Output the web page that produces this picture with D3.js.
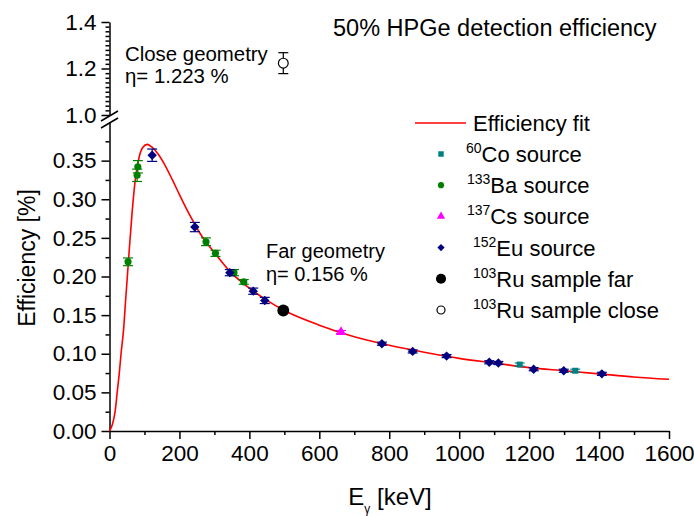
<!DOCTYPE html>
<html>
<head>
<meta charset="utf-8">
<script src="https://cdn.jsdelivr.net/npm/d3@7"></script>
<style>
  body { margin: 0; background: #fff; }
  svg { display: block; font-family: Arial, "Liberation Sans", sans-serif; }
</style>
</head>
<body>
<svg id="chart" width="694" height="516"></svg>
<script>
// tick labels
const xTicks = [0, 200, 400, 600, 800, 1000, 1200, 1400, 1600];
const yLowTicks = [0, 0.05, 0.10, 0.15, 0.20, 0.25, 0.30, 0.35];
const yHighTicks = [1.0, 1.2, 1.4];

// efficiency fit (keV, %)
const fitE   = [0, 8, 16, 22, 28, 33, 40, 47, 55, 65, 75, 85, 95, 108, 120, 140, 160, 180, 200, 230, 260, 300, 350, 400, 450, 500, 600, 700, 800, 900, 1000, 1100, 1200, 1300, 1400, 1500, 1600];
const fitEff = [0, 0.008, 0.025, 0.05, 0.075, 0.10, 0.13, 0.175, 0.225, 0.285, 0.33, 0.355, 0.367, 0.371, 0.368, 0.358, 0.343, 0.325, 0.306, 0.279, 0.255, 0.231, 0.204, 0.185, 0.169, 0.156, 0.137, 0.122, 0.111, 0.102, 0.094, 0.088, 0.082, 0.078, 0.074, 0.070, 0.067];

// measured points
const coE = [1173, 1332];
const coEff = [0.086, 0.078];
const coErr = [0.002, 0.002];

const baE = [53, 79, 81, 276, 303, 356, 384];
const baEff = [0.219, 0.331, 0.342, 0.245, 0.230, 0.205, 0.193];
const baErr = [0.005, 0.008, 0.008, 0.005, 0.004, 0.004, 0.003];

const csE = [662];
const csEff = [0.128];
const csErr = [0.002];

const euE = [122, 244, 344, 411, 444, 779, 867, 964, 1086, 1112, 1213, 1299, 1408];
const euEff = [0.357, 0.264, 0.205, 0.181, 0.169, 0.113, 0.103, 0.097, 0.089, 0.088, 0.080, 0.078, 0.074];
const euErr = [0.008, 0.006, 0.004, 0.004, 0.004, 0.002, 0.002, 0.002, 0.002, 0.002, 0.002, 0.002, 0.002];

const ruFarE = [497];
const ruFarEff = [0.156];
const ruFarErr = [0.003];

const ruCloseE = [497];
const ruCloseEff = [1.223];
const ruCloseErr = [0.045];

const svg = d3.select("#chart");

const x = d3.scaleLinear().domain([0, 1600]).range([109.5, 669]);
const yLow = d3.scaleLinear().domain([0, 0.4]).range([431, 122]);
const yHigh = d3.scaleLinear().domain([1.0, 1.4]).range([115, 22]);

function styleAxis(g) {
  g.selectAll("path, line").attr("stroke", "#000").attr("stroke-width", 1.5);
  g.selectAll("text").attr("fill", "#000").style("font-size", "22.5px");
}

// x axis
const gx = svg.append("g").attr("transform", "translate(0,431)");
gx.call(d3.axisBottom(x).tickValues(xTicks).tickFormat(d3.format("d")).tickSize(8).tickSizeOuter(0).tickPadding(6));
gx.append("g").call(d3.axisBottom(x).tickValues(xTicks.slice(1).map(v => v - 100)).tickFormat("").tickSize(4))
  .select(".domain").remove();
styleAxis(gx);

// lower y axis
const gyl = svg.append("g").attr("transform", "translate(109.5,0)");
gyl.call(d3.axisLeft(yLow).tickValues(yLowTicks).tickFormat(d3.format(".2f")).tickSize(8).tickSizeOuter(0).tickPadding(5));
gyl.append("g").call(d3.axisLeft(yLow).tickValues(yLowTicks.map(v => v + 0.025)).tickFormat("").tickSize(4))
  .select(".domain").remove();
styleAxis(gyl);

// upper y axis
const gyh = svg.append("g").attr("transform", "translate(109.5,0)");
gyh.call(d3.axisLeft(yHigh).tickValues(yHighTicks).tickFormat(d3.format(".1f")).tickSize(8).tickSizeOuter(0).tickPadding(5));
const minorHigh = [];
yHighTicks.slice(1).forEach((t, i) => {
  for (let k = 1; k < 10; k++) minorHigh.push(yHighTicks[i] + k * 0.02);
});
gyh.append("g").call(d3.axisLeft(yHigh).tickValues(minorHigh).tickFormat("").tickSize(4))
  .select(".domain").remove();
styleAxis(gyh);

// axis break marks
svg.append("g").selectAll("line").data([yHigh(1.0) + 1, yLow(0.4) + 1]).join("line")
  .attr("x1", 101).attr("x2", 118)
  .attr("y1", d => d + 5).attr("y2", d => d - 5)
  .attr("stroke", "#000").attr("stroke-width", 1.5);

// fit curve
const fitLine = d3.line().x(d => x(d[0])).y(d => yLow(d[1])).curve(d3.curveMonotoneX);
svg.append("path")
  .datum(fitE.map((e, i) => [e, fitEff[i]]))
  .attr("d", fitLine)
  .attr("fill", "none").attr("stroke", "#ff0000").attr("stroke-width", 1.6);

// symbols
const sym = {
  square: d3.symbol().type(d3.symbolSquare).size(36),
  circle: d3.symbol().type(d3.symbolCircle).size(40),
  triangle: d3.symbol().type(d3.symbolTriangle).size(45),
  diamond: d3.symbol().type(d3.symbolSquare).size(44),
  big: d3.symbol().type(d3.symbolCircle).size(110),
  open: d3.symbol().type(d3.symbolCircle).size(75)
};

const series = [
  { E: coE, eff: coEff, err: coErr, color: "#008080", shape: "square", y: yLow },
  { E: baE, eff: baEff, err: baErr, color: "#008000", shape: "circle", y: yLow },
  { E: csE, eff: csEff, err: csErr, color: "#ff00ff", shape: "triangle", y: yLow },
  { E: euE, eff: euEff, err: euErr, color: "#000080", shape: "diamond", y: yLow },
  { E: ruFarE, eff: ruFarEff, err: ruFarErr, color: "#000000", shape: "big", y: yLow },
  { E: ruCloseE, eff: ruCloseEff, err: ruCloseErr, color: "#000000", shape: "open", y: yHigh }
];

series.forEach(s => {
  const pts = s.E.map((e, i) => ({ e: e, v: s.eff[i], d: s.err[i] }));
  const g = svg.append("g");
  const eb = g.selectAll("g.eb").data(pts).join("g").attr("class", "eb")
    .attr("stroke", s.color).attr("stroke-width", 1.2);
  eb.append("line")
    .attr("x1", d => x(d.e)).attr("x2", d => x(d.e))
    .attr("y1", d => s.y(d.v - d.d)).attr("y2", d => s.y(d.v + d.d));
  [-1, 1].forEach(sg => {
    eb.append("line")
      .attr("x1", d => x(d.e) - 5).attr("x2", d => x(d.e) + 5)
      .attr("y1", d => s.y(d.v + sg * d.d)).attr("y2", d => s.y(d.v + sg * d.d));
  });
  const rot = s.shape === "diamond" ? " rotate(45)" : "";
  g.selectAll("path.pt").data(pts).join("path").attr("class", "pt")
    .attr("transform", d => `translate(${x(d.e)},${s.y(d.v)})${rot}`)
    .attr("d", sym[s.shape])
    .attr("fill", s.shape === "open" ? "#fff" : s.color)
    .attr("stroke", s.shape === "open" ? "#000" : "none")
    .attr("stroke-width", 1.2);
});

// legend
const legend = svg.append("g").style("font-size", "22px");
legend.append("line").attr("x1", 415).attr("x2", 466).attr("y1", 123).attr("y2", 123)
  .attr("stroke", "#ff0000").attr("stroke-width", 1.6);
legend.append("text").attr("x", 473).attr("y", 131).text("Efficiency fit");

const legendItems = [
  { sup: "60", name: "Co source", x: 466 },
  { sup: "133", name: "Ba source", x: 467 },
  { sup: "137", name: "Cs source", x: 467 },
  { sup: "152", name: "Eu source", x: 473 },
  { sup: "103", name: "Ru sample far", x: 473 },
  { sup: "103", name: "Ru sample close", x: 473 }
];
const legendShapes = [
  { shape: d3.symbol().type(d3.symbolSquare).size(30), fill: "#008080", stroke: "none", rot: 0 },
  { shape: d3.symbol().type(d3.symbolCircle).size(30), fill: "#008000", stroke: "none", rot: 0 },
  { shape: d3.symbol().type(d3.symbolTriangle).size(30), fill: "#ff00ff", stroke: "none", rot: 0 },
  { shape: d3.symbol().type(d3.symbolSquare).size(26), fill: "#000080", stroke: "none", rot: 45 },
  { shape: d3.symbol().type(d3.symbolCircle).size(80), fill: "#000", stroke: "none", rot: 0 },
  { shape: d3.symbol().type(d3.symbolCircle).size(50), fill: "#fff", stroke: "#000", rot: 0 }
];
legendItems.forEach((it, i) => {
  const yy = 154 + i * 31.2;
  const ls = legendShapes[i];
  legend.append("path").attr("transform", `translate(441,${yy}) rotate(${ls.rot})`).attr("d", ls.shape)
    .attr("fill", ls.fill).attr("stroke", ls.stroke).attr("stroke-width", 1.2);
  const t = legend.append("text").attr("x", it.x).attr("y", yy + 8);
  t.append("tspan").text(it.sup).style("font-size", "14px").attr("dy", -9);
  t.append("tspan").text(it.name).attr("dy", 9);
});

// annotations
svg.append("text").attr("x", 333).attr("y", 36).style("font-size", "23.5px").text("50% HPGe detection efficiency");
svg.append("text").attr("x", 125).attr("y", 61).style("font-size", "20.4px").text("Close geometry");
svg.append("text").attr("x", 125).attr("y", 83).style("font-size", "20.4px").text("η= 1.223 %");
svg.append("text").attr("x", 266).attr("y", 258).style("font-size", "20px").text("Far geometry");
svg.append("text").attr("x", 266).attr("y", 281).style("font-size", "20px").text("η= 0.156 %");

// axis titles
svg.append("text").attr("transform", "translate(35,258) rotate(-90)")
  .attr("text-anchor", "middle").style("font-size", "23px").text("Efficiency [%]");
const xt = svg.append("text").attr("x", 390).attr("y", 505).attr("text-anchor", "middle").style("font-size", "24px");
xt.append("tspan").text("E");
xt.append("tspan").text("γ").style("font-size", "12px").attr("dy", 8);
xt.append("tspan").text(" [keV]").attr("dy", -8);
</script>
</body>
</html>
